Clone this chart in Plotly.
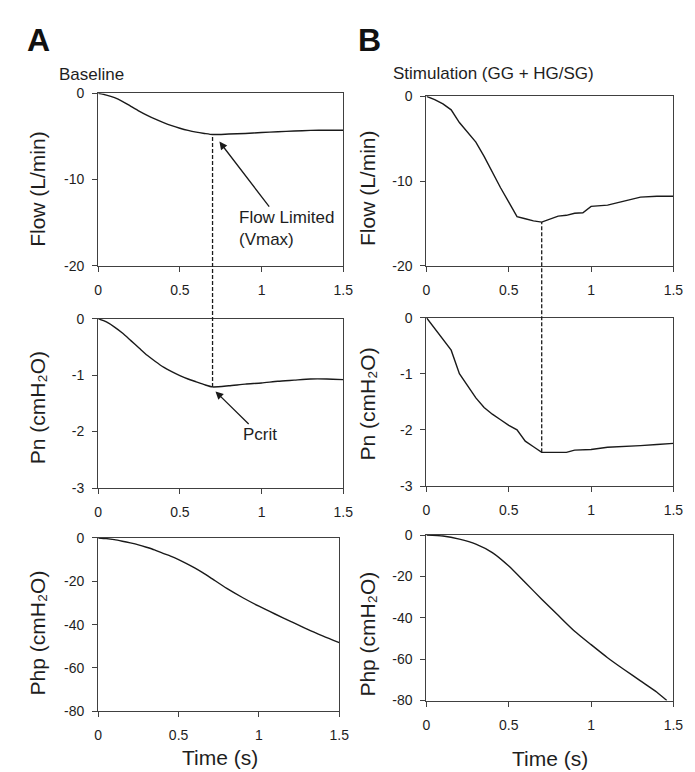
import plotly.graph_objects as go

# ---------------- data ----------------
t_a = [0, 0.05, 0.1, 0.15, 0.2, 0.25, 0.3, 0.35, 0.4, 0.45, 0.5, 0.55, 0.6, 0.65, 0.7,
       0.8, 0.9, 1.0, 1.1, 1.2, 1.3, 1.4, 1.5]
flow_a = [0, -0.2, -0.5, -0.95, -1.5, -2.05, -2.55, -3.0, -3.4, -3.75, -4.05, -4.3, -4.5, -4.65, -4.78,
          -4.72, -4.65, -4.55, -4.45, -4.37, -4.3, -4.28, -4.28]
pn_a = [0, -0.06, -0.15, -0.26, -0.39, -0.52, -0.65, -0.76, -0.86, -0.94, -1.01, -1.07, -1.12, -1.17, -1.21,
        -1.19, -1.16, -1.14, -1.11, -1.09, -1.07, -1.07, -1.08]
php_a = [0, -0.3, -0.8, -1.5, -2.3, -3.2, -4.3, -5.5, -7.0, -8.4, -10.0, -11.8, -13.8, -16.0, -18.4,
         -23.3, -27.6, -31.5, -35.1, -38.6, -42.1, -45.3, -48.3]

t_b = [0, 0.05, 0.1, 0.15, 0.2, 0.25, 0.3, 0.35, 0.4, 0.45, 0.5, 0.55, 0.6, 0.65, 0.7, 0.75, 0.8,
       0.85, 0.9, 0.95, 1.0, 1.1, 1.2, 1.3, 1.4, 1.5]
flow_b = [0, -0.4, -0.9, -1.6, -3.1, -4.2, -5.4, -7.1, -9.0, -10.8, -12.5, -14.2, -14.45, -14.7, -14.85,
          -14.5, -14.15, -14.05, -13.8, -13.75, -13.0, -12.85, -12.4, -11.9, -11.8, -11.8]
pn_b = [0, -0.2, -0.38, -0.58, -1.0, -1.22, -1.43, -1.6, -1.72, -1.82, -1.92, -2.0, -2.2, -2.3, -2.4,
        -2.4, -2.4, -2.4, -2.36, -2.35, -2.35, -2.31, -2.3, -2.28, -2.26, -2.24]
t_php_b = [0, 0.1, 0.2, 0.3, 0.4, 0.5, 0.6, 0.7, 0.8, 0.9, 1.0, 1.1, 1.2, 1.3, 1.4, 1.46]
php_b = [0, -0.5, -2.0, -4.4, -8.5, -15.0, -23.0, -31.0, -38.8, -46.5, -53.0, -59.3, -65.0, -70.5, -76.0, -80.0]

t_limit = 0.7  # time of flow limitation (dashed line)

x_ticks = [0, 0.5, 1, 1.5]
x_ticktext = ["0", "0.5", "1", "1.5"]
flow_ticks = [0, -10, -20]
flow_ticktext = ["0", "-10", "-20"]
pn_ticks = [0, -1, -2, -3]
pn_ticktext = ["0", "-1", "-2", "-3"]
php_ticks = [0, -20, -40, -60, -80]
php_ticktext = ["0", "-20", "-40", "-60", "-80"]

flow_range = [-20, 0]
pn_range = [-3, 0]
php_range = [-80, 0]

# ---------------- layout geometry ----------------
W, H = 695, 772
FONT = "Arial, Liberation Sans, Helvetica, sans-serif"
AXC = "#404040"
TXT = "#1e1e1e"

def px(xp):
    return xp / W

def py(yp):
    return 1 - yp / H

dom = {
    1: ([px(88), px(338)], [py(255), py(79)]),
    2: ([px(423), px(675)], [py(255), py(82)]),
    3: ([px(88), px(338)], [py(482), py(309)]),
    4: ([px(423), px(675)], [py(480), py(308)]),
    5: ([px(88), px(334)], [py(710), py(533)]),
    6: ([px(423), px(675)], [py(699), py(530)]),
}
yinfo = {
    1: (flow_range, flow_ticks, flow_ticktext),
    2: (flow_range, flow_ticks, flow_ticktext),
    3: (pn_range, pn_ticks, pn_ticktext),
    4: (pn_range, pn_ticks, pn_ticktext),
    5: (php_range, php_ticks, php_ticktext),
    6: (php_range, php_ticks, php_ticktext),
}

fig = go.Figure()
series = [
    (1, t_a, flow_a, "spline"), (3, t_a, pn_a, "spline"), (5, t_a, php_a, "spline"),
    (2, t_b, flow_b, "linear"), (4, t_b, pn_b, "linear"), (6, t_php_b, php_b, "spline"),
]
for i, xs, ys, shape in series:
    sfx = "" if i == 1 else str(i)
    fig.add_trace(go.Scatter(x=xs, y=ys, mode="lines", xaxis="x" + sfx, yaxis="y" + sfx,
                             line=dict(color="#1a1a1a", width=1.4, shape=shape, smoothing=0.6),
                             showlegend=False, hoverinfo="skip"))

layout = dict(width=W, height=H, margin=dict(l=0, r=0, t=0, b=0),
              paper_bgcolor="white", plot_bgcolor="white", showlegend=False,
              font=dict(family=FONT, color=TXT))
for i in range(1, 7):
    sfx = "" if i == 1 else str(i)
    xd, yd = dom[i]
    yr, yt, ytt = yinfo[i]
    layout["xaxis" + sfx] = dict(domain=xd, anchor="y" + sfx, range=[0, 1.5],
                                 tickvals=x_ticks, ticktext=x_ticktext,
                                 showline=True, linecolor=AXC, linewidth=1.4, mirror=True,
                                 ticks="outside", ticklen=5, tickcolor=AXC, tickwidth=1.3,
                                 showgrid=False, zeroline=False, ticklabelstandoff=6,
                                 tickfont=dict(size=14, color=TXT, family=FONT), fixedrange=True)
    layout["yaxis" + sfx] = dict(domain=yd, anchor="x" + sfx, range=yr,
                                 tickvals=yt, ticktext=ytt,
                                 showline=True, linecolor=AXC, linewidth=1.4, mirror=True,
                                 ticks="outside", ticklen=5, tickcolor=AXC, tickwidth=1.3,
                                 showgrid=False, zeroline=False, ticklabelstandoff=5,
                                 tickfont=dict(size=14, color=TXT, family=FONT), fixedrange=True)
fig.update_layout(**layout)

# ---------------- dashed connecting lines ----------------
def to_paper(val, rng, d):
    return d[0] + (val - rng[0]) / (rng[1] - rng[0]) * (d[1] - d[0])

ia = t_a.index(t_limit)
ib = t_b.index(t_limit)
for top_ax, mid_ax, fval, pval, xref in [(1, 3, flow_a[ia], pn_a[ia], "x"),
                                         (2, 4, flow_b[ib], pn_b[ib], "x2")]:
    y1 = to_paper(fval, flow_range, dom[top_ax][1])
    y0 = to_paper(pval, pn_range, dom[mid_ax][1])
    fig.add_shape(type="line", xref=xref, yref="paper", x0=t_limit, x1=t_limit, y0=y0, y1=y1,
                  line=dict(color="#1a1a1a", width=1.3, dash="4px,2px"))

# ---------------- annotations ----------------
ann = []
# panel letters and headings
ann.append(dict(text="<b>A</b>", x=px(27), y=py(24), xref="paper", yref="paper",
                showarrow=False, font=dict(size=32, color="#111"), xanchor="center", yanchor="middle"))
ann.append(dict(text="<b>B</b>", x=px(365), y=py(24), xref="paper", yref="paper",
                showarrow=False, font=dict(size=32, color="#111"), xanchor="center", yanchor="middle"))
ann.append(dict(text="Baseline", x=px(46), y=py(60), xref="paper", yref="paper",
                showarrow=False, font=dict(size=17), xanchor="left", yanchor="middle"))
ann.append(dict(text="Stimulation (GG + HG/SG)", x=px(387), y=py(59), xref="paper", yref="paper",
                showarrow=False, font=dict(size=17), xanchor="left", yanchor="middle"))

# y axis titles
ytitles = [("Flow (L/min)", 26, 176), ("Pn (cmH\u2082O)", 26, 400), ("Php (cmH\u2082O)", 26, 630),
           ("Flow (L/min)", 363, 176), ("Pn (cmH\u2082O)", 363, 396), ("Php (cmH\u2082O)", 363, 631)]
for txt, xx, yy in ytitles:
    ann.append(dict(text=txt, x=px(xx), y=py(yy), xref="paper", yref="paper", textangle=-90,
                    showarrow=False, font=dict(size=21), xanchor="center", yanchor="middle"))
# x axis titles
for xx, yy in [(212, 757), (549, 758)]:
    ann.append(dict(text="Time (s)", x=px(xx), y=py(yy), xref="paper", yref="paper",
                    showarrow=False, font=dict(size=21), xanchor="center", yanchor="middle"))

# labelled arrows (text box at the arrow tail, arrow head at the point)
ann.append(dict(text="Flow Limited<br>(Vmax)", x=0.742, y=-5.6, xref="x", yref="y",
                ax=1.15, ay=-15.7, axref="x", ayref="y", align="left",
                showarrow=True, arrowhead=2, arrowsize=1.2, arrowwidth=1.3,
                arrowcolor="#1a1a1a", standoff=0, startstandoff=0, font=dict(size=17)))
ann.append(dict(text="Pcrit", x=0.718, y=-1.29, xref="x3", yref="y3",
                ax=0.99, ay=-2.06, axref="x3", ayref="y3",
                showarrow=True, arrowhead=2, arrowsize=1.2, arrowwidth=1.3,
                arrowcolor="#1a1a1a", standoff=0, startstandoff=0, font=dict(size=17)))

fig.update_layout(annotations=ann)
fig.write_html("out.html")
